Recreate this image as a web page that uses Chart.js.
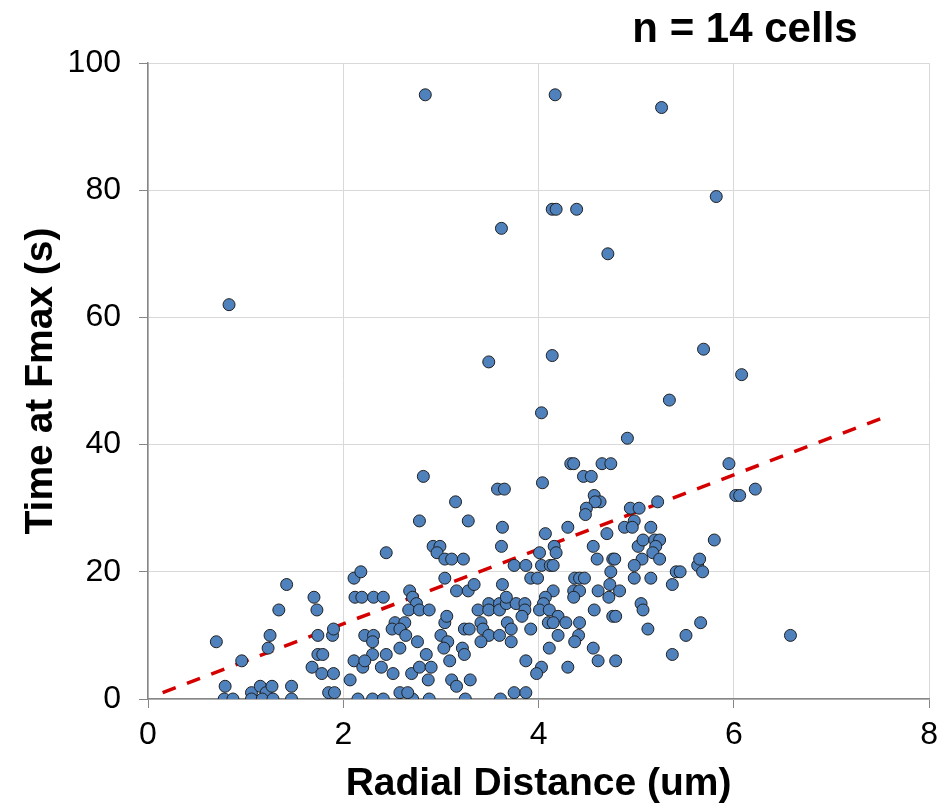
<!DOCTYPE html>
<html>
<head>
<meta charset="utf-8">
<script src="https://cdn.jsdelivr.net/npm/chart.js@4"></script>
<style>
  html, body { margin: 0; padding: 0; background: #fff; }
  #wrap { width: 946px; height: 808px; }
</style>
</head>
<body>
<div id="wrap"><canvas id="canvas" width="946" height="808"></canvas></div>
<script>
// Messwerte: radiale Distanz (um) und Zeit bis Fmax (s), je ein Punkt pro Event
const radialDistance = [
  0.70, 1.42, 1.34, 1.70, 1.73, 1.25, 1.23, 0.96, 0.79, 0.78, 0.87, 1.06, 1.15, 1.21, 1.27, 1.06,
  1.17, 1.28, 1.47, 1.47, 1.68, 1.78, 1.90, 1.74, 1.79, 1.74, 1.89, 1.90, 1.85, 1.91, 0.83,
  2.44, 2.92, 2.99, 2.96, 3.04, 3.11, 3.23, 3.62, 2.11, 2.18, 2.12, 2.19, 2.31, 2.41, 3.04, 2.68,
  2.71, 2.75, 2.67, 2.78, 2.88, 3.16, 3.28, 3.34, 3.38, 3.49, 3.49, 3.60, 3.60, 3.67, 3.77, 3.86,
  3.86, 3.63, 3.67, 3.75, 3.87, 2.53, 2.63, 2.50, 2.58, 2.64, 2.22, 2.31, 2.30, 2.58, 2.76, 2.30,
  2.44, 2.11, 2.20, 2.22, 2.39, 2.07, 2.51, 2.70, 2.78, 2.90, 2.87, 2.85, 3.00, 3.07, 3.04, 3.06,
  3.03, 3.09, 3.22, 3.24, 3.24, 3.29, 3.11, 3.16, 3.30, 3.41, 3.43, 3.49, 3.41, 3.60, 3.68, 3.72,
  3.72, 3.87, 2.15, 2.30, 2.41, 2.71, 2.88, 3.25, 3.61, 2.58, 2.66, 3.75, 3.87, 3.83,
  2.82, 3.58, 3.65, 3.15, 2.78, 3.28, 3.63,
  4.56, 5.02, 5.07, 5.19, 5.24, 5.20, 5.17, 5.24, 5.06, 5.80, 4.01, 4.16, 4.18, 4.03, 4.12, 4.15,
  4.60, 4.76, 4.78, 4.98, 3.92, 3.99, 4.37, 4.42, 4.47, 4.74, 4.98, 5.15, 5.37, 5.41, 5.45, 5.63,
  5.65, 5.68, 4.15, 4.36, 4.42, 4.36, 4.07, 4.05, 4.01, 4.11, 4.61, 4.73, 4.83, 4.72, 5.05, 5.07,
  4.57, 4.20, 4.10, 4.15, 4.28, 4.76, 4.79, 4.42, 3.92, 5.12, 5.66, 5.51, 4.20, 4.41, 4.37, 4.11,
  4.56, 4.03, 3.98, 4.30, 4.61, 4.79, 5.37, 6.58,
  4.03, 5.34, 4.91, 4.33, 4.36, 4.65, 4.74, 5.95, 4.04, 4.46, 4.54, 6.02, 6.06, 4.57, 4.63, 4.58,
  4.49, 4.48, 5.22, 4.94, 5.03, 4.98, 4.88, 4.96, 5.15, 4.30, 4.07, 4.70,
  2.84, 4.17, 5.26, 5.82, 4.14, 4.18, 4.39, 3.62, 4.71, 3.49, 4.14, 5.69, 6.08, 6.22
];
const timeAtFmax = [
  9, 18, 14, 16, 14, 10, 8, 6, 2, 0, 0, 1, 2, 1, 2, 0,
  0, 0, 2, 0, 5, 4, 4, 7, 7, 10, 10, 11, 1, 1, 62,
  23, 24, 24, 23, 22, 22, 22, 24, 19, 20, 16, 16, 16, 16, 19, 17,
  16, 15, 14, 14, 14, 17, 17, 18, 14, 15, 14, 15, 14, 15, 15, 15,
  14, 18, 16, 21, 21, 12, 12, 11, 11, 10, 10, 10, 9, 8, 9, 7,
  7, 6, 5, 6, 5, 3, 4, 4, 5, 5, 3, 7, 10, 9, 12, 13,
  8, 6, 8, 7, 11, 11, 3, 2, 3, 12, 11, 10, 9, 10, 12, 11,
  9, 6, 0, 0, 0, 0, 0, 0, 0, 1, 1, 1, 1, 13,
  35, 33, 33, 31, 28, 28, 27,
  24, 24, 25, 25, 25, 24, 23, 22, 22, 25, 23, 24, 23, 21, 21, 21,
  22, 22, 22, 21, 19, 19, 19, 19, 19, 20, 19, 19, 18, 20, 20, 21,
  22, 20, 17, 17, 17, 16, 16, 15, 14, 14, 17, 18, 17, 16, 15, 14,
  14, 13, 12, 12, 12, 13, 13, 12, 11, 11, 12, 10, 10, 10, 9, 8,
  8, 5, 4, 5, 6, 6, 7, 10,
  45, 47, 41, 37, 37, 37, 37, 37, 34, 35, 35, 32, 32, 32, 31, 31,
  30, 29, 31, 30, 30, 28, 27, 27, 27, 27, 26, 26,
  95, 95, 93, 79, 77, 77, 77, 74, 70, 53, 54, 55, 51, 33
];

// lineare Trendlinie (Anfang / Ende)
const trendX = [0.15, 7.51];
const trendY = [1.0, 44.1];

const xTicks = [0, 2, 4, 6, 8];
const yTicks = [0, 20, 40, 60, 80, 100];
const cellCount = 'n = 14 cells';

const fontFamily = "'Liberation Sans', Arial, sans-serif";

const points = radialDistance.map((x, i) => ({ x: x, y: timeAtFmax[i] }));
const trend = trendX.map((x, i) => ({ x: x, y: trendY[i] }));

// Beschriftung oben rechts
const cellLabel = {
  id: 'cellLabel',
  afterDraw(chart) {
    const ctx = chart.ctx;
    ctx.save();
    ctx.font = `bold 42px ${fontFamily}`;
    ctx.fillStyle = '#000';
    ctx.textAlign = 'center';
    ctx.textBaseline = 'alphabetic';
    ctx.fillText(cellCount, 745, 42);
    ctx.restore();
  }
};

const ctx = document.querySelector('#canvas');
const chart = new Chart(ctx, {
  type: 'scatter',
  data: {
    datasets: [
      {
        label: 'Events',
        data: points,
        backgroundColor: '#4f81bd',
        borderColor: '#202020',
        borderWidth: 1,
        pointRadius: 6,
        order: 1
      },
      {
        label: 'Trend',
        type: 'line',
        data: trend,
        borderColor: '#d40000',
        borderWidth: 3.5,
        borderDash: [14, 12],
        pointRadius: 0,
        fill: false,
        order: 2
      }
    ]
  },
  options: {
    responsive: false,
    animation: false,
    layout: { padding: { top: 63, right: 16, left: 0, bottom: 0 } },
    plugins: {
      legend: { display: false },
      tooltip: { enabled: false }
    },
    scales: {
      x: {
        type: 'linear',
        min: 0,
        max: 8,
        afterFit(scale) { scale.height = 109; },
        afterBuildTicks(scale) { scale.ticks = xTicks.map(v => ({ value: v })); },
        ticks: {
          color: '#000',
          padding: 8,
          font: { family: fontFamily, size: 32 }
        },
        grid: { color: '#d9d9d9', tickColor: '#868686', tickLength: 9 },
        border: { color: '#868686', width: 1.5 },
        title: {
          display: true,
          text: 'Radial Distance (um)',
          color: '#000',
          padding: { top: 0, bottom: 0 },
          font: { family: fontFamily, size: 39, weight: 'bold' }
        }
      },
      y: {
        type: 'linear',
        min: 0,
        max: 100,
        afterFit(scale) { scale.width = 148; },
        afterBuildTicks(scale) { scale.ticks = yTicks.map(v => ({ value: v })); },
        ticks: {
          color: '#000',
          padding: 18,
          font: { family: fontFamily, size: 32 }
        },
        grid: { color: '#d9d9d9', tickColor: '#868686', tickLength: 9 },
        border: { color: '#868686', width: 1.5 },
        title: {
          display: true,
          text: 'Time at Fmax (s)',
          color: '#000',
          padding: { top: 18, bottom: 0 },
          font: { family: fontFamily, size: 39, weight: 'bold' }
        }
      }
    }
  },
  plugins: [cellLabel]
});
</script>
</body>
</html>
